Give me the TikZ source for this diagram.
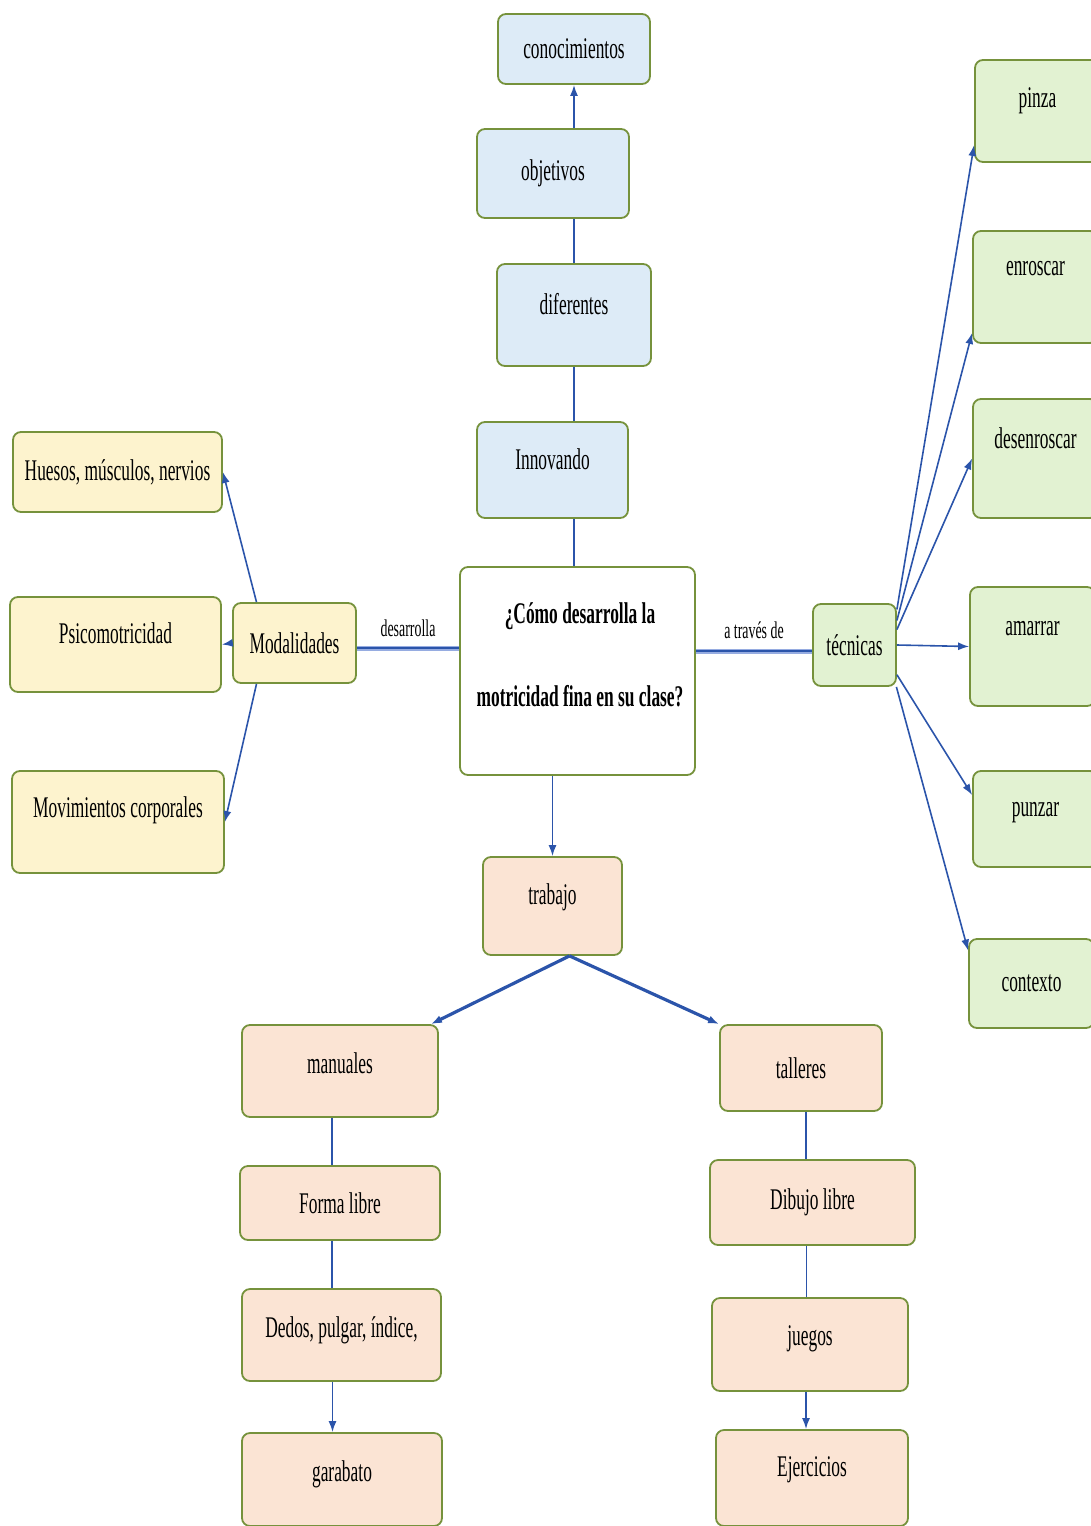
\documentclass[tikz,border=0pt]{standalone}
\usepackage{fontspec}
\setmainfont{Liberation Serif}[FakeStretch=0.58]
\usepackage{xcolor}
\definecolor{boxborder}{RGB}{118, 146, 60}
\definecolor{skyfill}{RGB}{221, 235, 247}
\definecolor{leaffill}{RGB}{226, 242, 210}
\definecolor{sandfill}{RGB}{253, 243, 206}
\definecolor{peachfill}{RGB}{251, 228, 212}
\definecolor{linkblue}{RGB}{43, 84, 170}
\definecolor{paleblue}{RGB}{150, 172, 225}
\usepackage{tikz}
\usetikzlibrary{arrows.meta, positioning}

\begin{document}
\begin{tikzpicture}[x=1pt, y=-1pt, >={Latex[length=11pt,width=8pt]},
    box/.style={draw=boxborder, line width=1.8pt, rounded corners=8pt, inner sep=0pt,
                font=\fontsize{30}{34}\selectfont},
    skybox/.style={box, fill=skyfill},
    leafbox/.style={box, fill=leaffill},
    sandbox/.style={box, fill=sandfill},
    peachbox/.style={box, fill=peachfill},
    lift/.style={text depth=#1},
    link/.style={linkblue, line width=1.6pt},
    fork/.style={linkblue, line width=3.2pt},
    bridge/.style={paleblue, line width=5pt, postaction={draw=linkblue, line width=1.4pt}},
    tag/.style={font=\fontsize{24}{28}\selectfont, inner sep=2pt}]
    \useasboundingbox (0,0) rectangle (1090,1526);

    % upper chain
    \node[skybox, minimum width=152pt, minimum height=70pt] (conoc) at (574,49) {conocimientos};
    \node[skybox, minimum width=152pt, minimum height=89pt] (objetivos) at (553,173.5) {objetivos};
    \node[skybox, minimum width=154pt, minimum height=102pt, lift=22pt] (diferentes) at (574,315) {diferentes};
    \node[skybox, minimum width=151pt, minimum height=96pt, lift=22pt] (innovando) at (552.5,470) {Innovando};

    % question
    \node[box, fill=white, minimum width=235pt, minimum height=208pt] (pregunta) at (577.5,671) {};
    \node[font=\fontsize{30}{34}\selectfont\bfseries, align=center] (pregunta-t) at (580,655)
        {¿Cómo desarrolla la\\[49pt]motricidad fina en su clase?};

    % techniques
    \node[leafbox, minimum width=83pt, minimum height=82pt] (tecnicas) at (854.5,645) {técnicas};
    \node[leafbox, minimum width=125pt, minimum height=102pt, lift=26pt] (pinza) at (1037.5,111) {pinza};
    \node[leafbox, minimum width=125pt, minimum height=112pt, lift=38pt] (enroscar) at (1035.5,287) {enroscar};
    \node[leafbox, minimum width=125pt, minimum height=119pt, lift=41pt] (desenroscar) at (1035.5,458.5) {desenroscar};
    \node[leafbox, minimum width=125pt, minimum height=119pt, lift=37pt] (amarrar) at (1032.5,646.5) {amarrar};
    \node[leafbox, minimum width=125pt, minimum height=96pt, lift=20pt] (punzar) at (1035.5,819) {punzar};
    \node[leafbox, minimum width=125pt, minimum height=89pt] (contexto) at (1031.5,983.5) {contexto};

    % modalities
    \node[sandbox, minimum width=123pt, minimum height=80pt] (modal) at (294.5,643) {Modalidades};
    \node[sandbox, minimum width=209pt, minimum height=80pt] (huesos) at (117.5,472) {Huesos, músculos, nervios};
    \node[sandbox, minimum width=211pt, minimum height=95pt, lift=22pt] (psico) at (115.5,644.5) {Psicomotricidad};
    \node[sandbox, minimum width=212pt, minimum height=102pt, lift=30pt] (movim) at (118,822) {Movimientos corporales};

    % work
    \node[peachbox, minimum width=139pt, minimum height=98pt, lift=24pt] (trabajo) at (552.5,906) {trabajo};
    \node[peachbox, minimum width=196pt, minimum height=92pt, lift=16pt] (manuales) at (340,1071) {manuales};
    \node[peachbox, minimum width=200pt, minimum height=74pt] (forma) at (340,1203) {Forma libre};
    \node[peachbox, minimum width=199pt, minimum height=92pt, lift=16pt] (dedos) at (341.5,1335) {Dedos, pulgar, índice,};
    \node[peachbox, minimum width=200pt, minimum height=93pt, lift=17pt] (garabato) at (342,1479.5) {garabato};
    \node[peachbox, minimum width=162pt, minimum height=86pt] (talleres) at (801,1068) {talleres};
    \node[peachbox, minimum width=205pt, minimum height=85pt] (dibujo) at (812.5,1202.5) {Dibujo libre};
    \node[peachbox, minimum width=196pt, minimum height=93pt, lift=17pt] (juegos) at (810,1344.5) {juegos};
    \node[peachbox, minimum width=192pt, minimum height=96pt, lift=22pt] (ejercicios) at (812,1478) {Ejercicios};

    % connectors, top
    \draw[link, ->] (objetivos.north -| conoc) -- (conoc.south);
    \draw[link] (objetivos.south -| diferentes) -- (diferentes.north);
    \draw[link] (diferentes.south) -- (innovando.north -| diferentes);
    \draw[link] (innovando.south -| diferentes) -- (pregunta.north -| diferentes);
    \draw[link, ->] (pregunta.south -| trabajo) -- (trabajo.north);

    % connectors, sides
    \draw[bridge] ([yshift=-5pt]modal.east) -- ([yshift=-5pt]modal.east -| pregunta.west)
        node[tag, midway, above=7pt, text=black] (desarrolla) {desarrolla};
    \draw[bridge] ([yshift=-6pt]tecnicas.west -| pregunta.east) -- ([yshift=-6pt]tecnicas.west)
        node[tag, midway, above=8pt, text=black] (atraves) {a través de};

    \draw[link, ->] ([xshift=-38pt]modal.north) -- (huesos.east);
    \draw[link, ->] (modal.west) -- (psico.east);
    \draw[link, ->] ([xshift=-38pt]modal.south) -- (movim.east);

    \draw[link, ->] (tecnicas.40) -- ([yshift=-34pt]pinza.west);
    \draw[link, ->] (tecnicas.30) -- ([yshift=-46pt]enroscar.west);
    \draw[link, ->] (tecnicas.20) -- (desenroscar.west);
    \draw[link, ->] (tecnicas.0) -- (amarrar.west);
    \draw[link, ->] (tecnicas.-35) -- ([yshift=24pt]punzar.west);
    \draw[link, ->] (tecnicas.-45) -- ([yshift=33pt]contexto.west);

    % connectors, bottom
    \draw[fork, ->] ([xshift=17pt]trabajo.south) -- ([xshift=-8pt]manuales.north east);
    \draw[fork, ->] ([xshift=17pt]trabajo.south) -- (talleres.north west);

    \draw[link] ([xshift=-8pt]manuales.south) -- ([xshift=-8pt]manuales.south |- forma.north);
    \draw[link] ([xshift=-8pt]forma.south) -- ([xshift=-8pt]forma.south |- dedos.north);
    \draw[link, ->] ([xshift=-9pt]dedos.south) -- ([xshift=-9pt]dedos.south |- garabato.north);
    \draw[link] ([xshift=5pt]talleres.south) -- ([xshift=5pt]talleres.south |- dibujo.north);
    \draw[link] ([xshift=-6pt]dibujo.south) -- ([xshift=-6pt]dibujo.south |- juegos.north);
    \draw[link, ->] ([xshift=-4pt]juegos.south) -- ([xshift=-4pt]juegos.south |- ejercicios.north);
\end{tikzpicture}
\end{document}
